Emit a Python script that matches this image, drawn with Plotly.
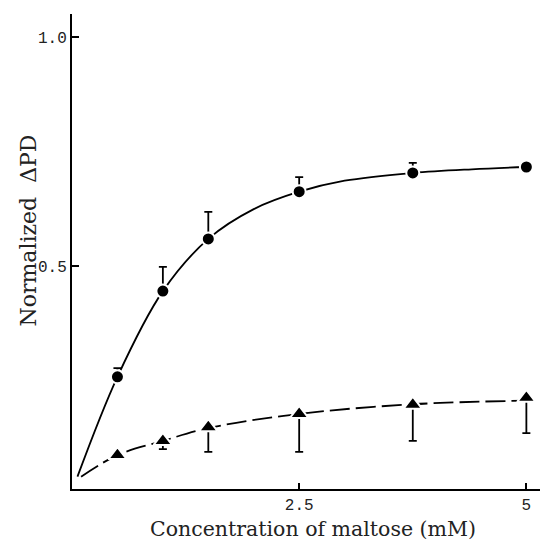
import plotly.graph_objects as go

# --- data ---
conc = [0.5, 1.0, 1.5, 2.5, 3.75, 5.0]

circle_vals = [0.258, 0.445, 0.559, 0.662, 0.703, 0.716]
circle_err_up = [0.019, 0.053, 0.059, 0.032, 0.022, 0.0]

tri_vals = [0.087, 0.118, 0.148, 0.177, 0.197, 0.212]
tri_err_down = [0.0, 0.018, 0.054, 0.083, 0.079, 0.077]

# fitted curves
circle_fit_x = [0.06, 0.5, 1.0, 1.5, 2.0, 2.5, 3.0, 3.75, 4.4, 5.0]
circle_fit_y = [0.040, 0.258, 0.445, 0.559, 0.624, 0.662, 0.686, 0.703, 0.711, 0.716]

tri_fit_x = [0.1, 0.5, 1.0, 1.5, 2.5, 3.75, 5.0]
tri_fit_y = [0.040, 0.087, 0.118, 0.146, 0.177, 0.198, 0.206]

x_ticks = [2.5, 5]
x_tick_text = ["2.5", "5"]
y_ticks = [0.5, 1.0]
y_tick_text = ["0.5", "1.0"]

fig = go.Figure()

fig.add_trace(go.Scatter(
    x=circle_fit_x, y=circle_fit_y, mode="lines",
    line=dict(color="black", width=1.8, shape="spline", smoothing=1.0),
    hoverinfo="skip", showlegend=False))
fig.add_trace(go.Scatter(
    x=tri_fit_x, y=tri_fit_y, mode="lines",
    line=dict(color="black", width=1.8, shape="spline", smoothing=1.0, dash="20px,6px"),
    hoverinfo="skip", showlegend=False))

fig.add_trace(go.Scatter(
    x=conc, y=circle_vals, mode="markers",
    marker=dict(symbol="circle", size=13, color="black",
                line=dict(color="white", width=2)),
    error_y=dict(type="data", symmetric=False, array=circle_err_up,
                 arrayminus=[0] * len(conc), color="black", thickness=1.8, width=4),
    showlegend=False))
fig.add_trace(go.Scatter(
    x=conc, y=tri_vals, mode="markers",
    marker=dict(symbol="triangle-up", size=16, color="black",
                line=dict(color="white", width=2)),
    error_y=dict(type="data", symmetric=False, array=[0] * len(conc),
                 arrayminus=tri_err_down, color="black", thickness=1.8, width=4),
    showlegend=False))

fig.add_annotation(text="Normalized  \u0394PD", xref="paper", yref="paper",
                   x=-0.093, y=0.545, xanchor="center", yanchor="middle",
                   textangle=-90, showarrow=False,
                   font=dict(family="DejaVu Serif", size=22, color="#222"))
fig.add_annotation(text="Concentration of maltose (mM)", xref="paper", yref="paper",
                   x=0.515, y=-0.085, xanchor="center", yanchor="middle",
                   showarrow=False,
                   font=dict(family="DejaVu Serif", size=20.5, color="#222"))

fig.update_layout(
    width=544, height=545,
    margin=dict(l=72, r=4, t=14, b=56),
    paper_bgcolor="white", plot_bgcolor="white",
    font=dict(family="Liberation Mono", size=16, color="#222"),
    xaxis=dict(range=[0, 5.15], tickvals=x_ticks, ticktext=x_tick_text,
               ticks="inside", ticklen=6, tickwidth=1.5, tickcolor="black",
               showline=True, linecolor="black", linewidth=2,
               showgrid=False, zeroline=False, mirror=False),
    yaxis=dict(range=[0.013, 1.05], tickvals=y_ticks, ticktext=y_tick_text,
               ticks="inside", ticklen=7, tickwidth=1.5, tickcolor="black",
               showline=True, linecolor="black", linewidth=2,
               showgrid=False, zeroline=False, mirror=False),
)

fig.write_html("out.html")
